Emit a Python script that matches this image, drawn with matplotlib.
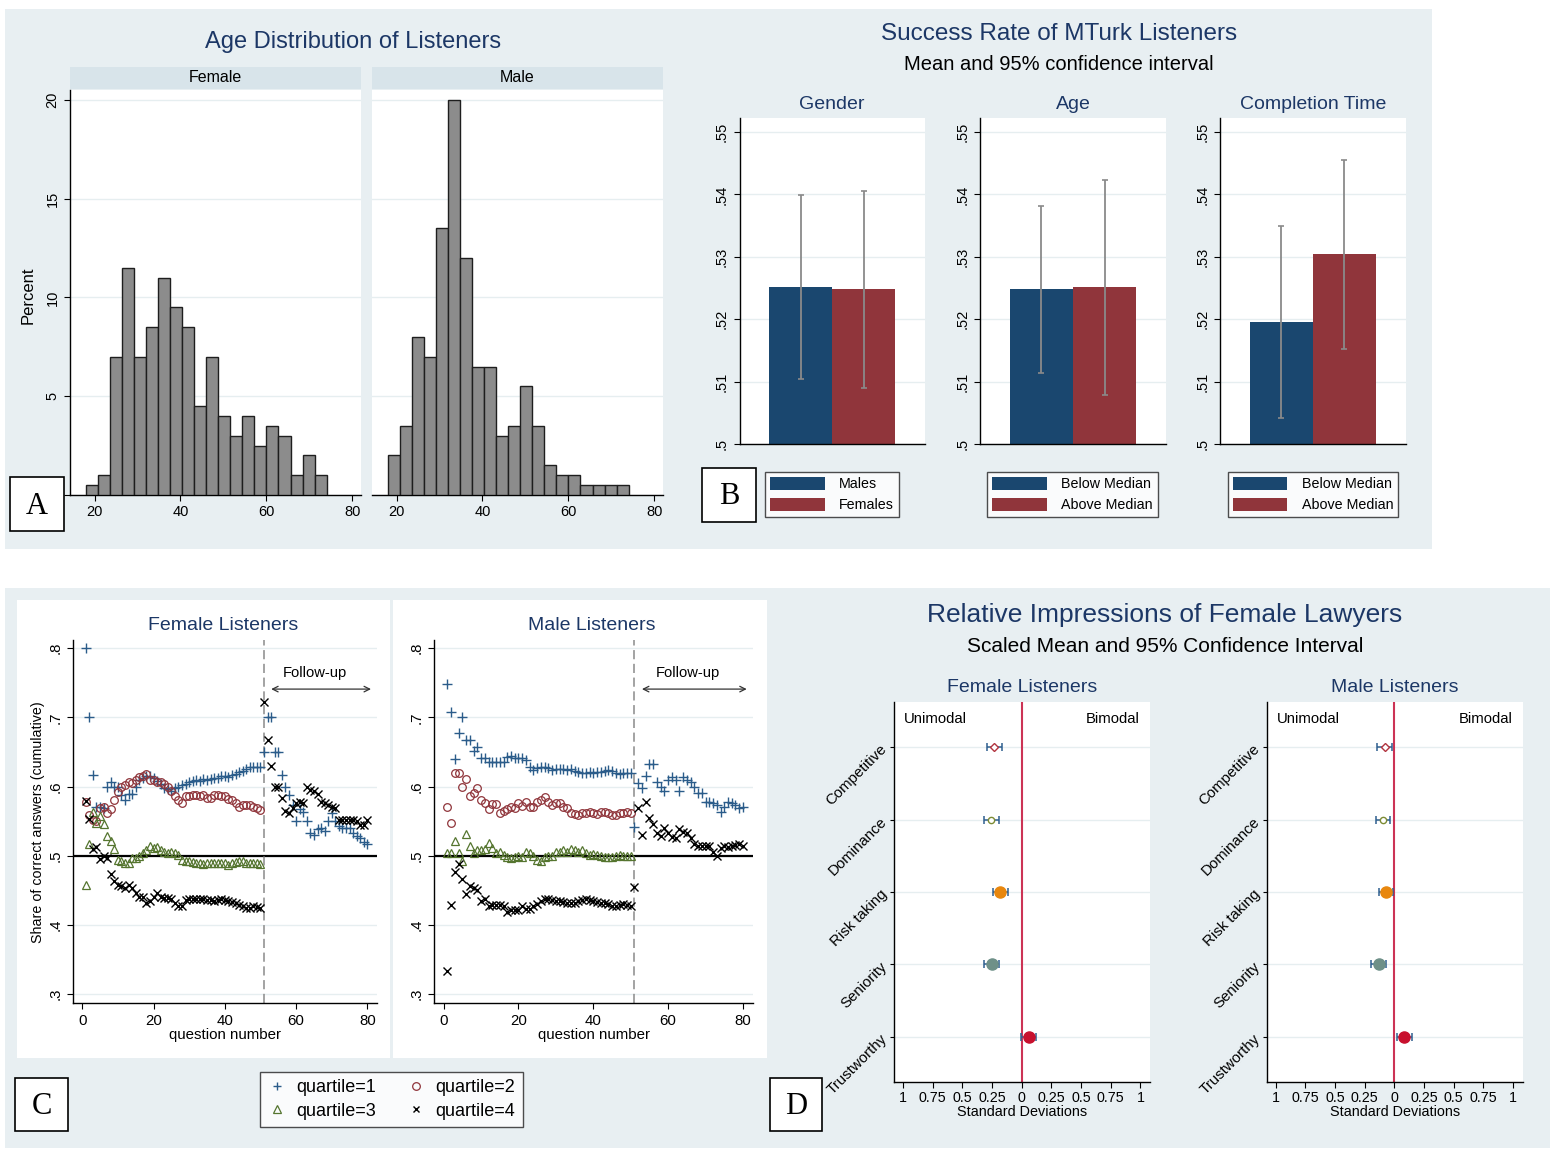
import matplotlib
matplotlib.use("Agg")
import matplotlib.pyplot as plt
from matplotlib.patches import Rectangle, Patch
from matplotlib.lines import Line2D
from matplotlib.ticker import FuncFormatter
import numpy as np

plt.rcParams['font.family'] = ['Liberation Sans', 'DejaVu Sans']

# ---------------- data ----------------
# A: age histograms (percent per bin, bins of 2.8 years starting at 18)
age_bin_start = 18
age_bin_width = 2.8
female_age_pct = [0.5, 1, 7, 11.5, 7, 8.5, 11, 9.5, 8.5, 4.5, 7, 4, 3, 4, 2.5, 3.5, 3, 1, 2, 1]
male_age_pct = [2, 3.5, 8, 7, 13.5, 20, 12, 6.5, 6.5, 3, 3.5, 5.5, 3.5, 1.5, 1, 1, 0.5, 0.5, 0.5, 0.5]

# B: success rate, mean and 95% CI
b_groups = ['Gender', 'Age', 'Completion Time']
b_labels = [('Males', 'Females'), ('Below Median', 'Above Median'), ('Below Median', 'Above Median')]
b_means = [[0.5251, 0.5248], [0.5248, 0.5251], [0.5195, 0.5304]]
b_lo = [[0.5104, 0.5089], [0.5113, 0.5079], [0.5041, 0.5153]]
b_hi = [[0.5399, 0.5406], [0.5382, 0.5423], [0.5350, 0.5455]]

# C: cumulative share of correct answers by quartile
f_q1 = [.80, .70, .617, .57, .57, .569, .60, .607, .60, .60, .588, .58, .59, .59, .60, .61, .612, .615, .615, .612,
        .608, .604, .598, .596, .594, .598, .600, .602, .604, .606, .608, .61, .608, .611, .61, .611, .612, .613, .615, .616,
        .614, .617, .618, .621, .623, .625, .629, .628, .628, .629, .65, .70, .70, .65, .65, .617, .60, .588, .573, .55,
        .568, .563, .55, .533, .530, .538, .54, .536, .55, .562, .55, .543, .54, .54, .54, .533, .528, .525, .52, .517]
f_q2 = [.578, .559, .552, .55, .569, .571, .562, .567, .581, .592, .60, .603, .606, .605, .61, .614, .615, .618, .61, .61,
        .607, .606, .604, .60, .593, .586, .581, .576, .586, .586, .588, .588, .587, .588, .583, .583, .588, .588, .586, .586,
        .582, .581, .576, .571, .573, .573, .573, .571, .569, .566]
f_q3 = [.458, .517, .563, .547, .557, .546, .528, .521, .51, .494, .492, .49, .49, .497, .497, .50, .504, .508, .514, .511,
        .512, .509, .505, .504, .506, .504, .501, .494, .493, .492, .491, .49, .489, .488, .489, .49, .49, .49, .49, .489,
        .487, .489, .491, .493, .492, .49, .489, .49, .489, .488]
f_q4 = [.579, .553, .51, .513, .496, .499, .497, .474, .463, .458, .456, .453, .457, .453, .446, .441, .44, .432, .434, .441,
        .446, .441, .439, .439, .437, .432, .427, .428, .436, .437, .437, .438, .437, .437, .436, .436, .435, .436, .437, .436,
        .435, .433, .431, .429, .427, .425, .425, .427, .426, .425, .722, .667, .63, .60, .60, .583, .564, .562, .569, .576,
        .578, .576, .60, .595, .593, .59, .578, .576, .574, .571, .569, .552, .552, .552, .552, .552, .550, .545, .545, .552]
m_q1 = [.749, .708, .64, .677, .70, .667, .667, .652, .657, .641, .641, .636, .635, .635, .635, .636, .643, .644, .641, .641,
        .641, .639, .628, .624, .627, .628, .628, .627, .624, .625, .625, .625, .624, .625, .622, .621, .62, .62, .621, .62,
        .621, .621, .623, .624, .622, .62, .618, .62, .619, .619, .542, .605, .598, .615, .633, .633, .607, .60, .593, .61,
        .614, .609, .593, .614, .61, .606, .60, .591, .591, .578, .578, .576, .573, .563, .571, .578, .576, .574, .569, .571]
m_q2 = [.571, .547, .619, .619, .60, .611, .586, .591, .598, .581, .576, .567, .575, .575, .562, .564, .567, .571, .569, .576,
        .572, .578, .571, .571, .578, .581, .585, .578, .574, .576, .576, .571, .569, .562, .56, .559, .562, .562, .563, .562,
        .561, .563, .563, .562, .559, .559, .562, .562, .563, .562]
m_q3 = [.504, .504, .522, .504, .492, .532, .514, .504, .509, .509, .51, .518, .511, .504, .505, .501, .498, .497, .498, .50,
        .498, .506, .504, .499, .494, .492, .498, .50, .499, .506, .506, .509, .506, .51, .508, .506, .508, .504, .501, .503,
        .501, .50, .498, .498, .498, .499, .501, .50, .50, .499]
m_q4 = [.334, .429, .476, .488, .466, .445, .456, .453, .451, .434, .437, .427, .429, .429, .429, .427, .418, .422, .422, .422,
        .427, .423, .423, .427, .43, .435, .438, .437, .436, .435, .434, .433, .432, .431, .432, .434, .436, .438, .436, .434,
        .433, .432, .431, .43, .428, .428, .429, .43, .429, .428, .455, .569, .53, .578, .554, .546, .533, .529, .54, .533,
        .527, .526, .539, .534, .533, .526, .517, .514, .514, .514, .514, .506, .50, .511, .514, .513, .514, .516, .517, .514]
main_questions = 50

# D: relative impressions (scaled means, 95% CI)
traits = ['Competitive', 'Dominance', 'Risk taking', 'Seniority', 'Trustworthy']
fem_mean = [-0.233, -0.256, -0.18, -0.253, 0.059]
fem_lo = [-0.295, -0.317, -0.242, -0.315, -0.003]
fem_hi = [-0.169, -0.188, -0.115, -0.188, 0.121]
male_mean = [-0.079, -0.098, -0.067, -0.132, 0.084]
male_lo = [-0.143, -0.157, -0.132, -0.194, 0.025]
male_hi = [-0.02, -0.034, -0.008, -0.067, 0.146]

# ---------------- style ----------------
W, H = 1562, 1149
BG = '#e8eff2'
STRIP = '#d8e4ea'
GRID = '#e6eef0'
TITLE = '#1c3766'
NAVY = '#1a476f'
MAROON = '#90353b'
GREEN = '#55752f'
Q1C = '#2b5c8a'

fig = plt.figure(figsize=(W / 100, H / 100), dpi=100)


def rect(x0, y0, x1, y1):
    return [x0 / W, 1 - y1 / H, (x1 - x0) / W, (y1 - y0) / H]


def box(x0, y0, x1, y1, fc, ec='none', lw=0, z=-10):
    fig.add_artist(Rectangle((x0 / W, 1 - y1 / H), (x1 - x0) / W, (y1 - y0) / H,
                             transform=fig.transFigure, facecolor=fc, edgecolor=ec, lw=lw, zorder=z))


def ftext(x, y, s, **kw):
    fig.text(x / W, 1 - y / H, s, **kw)


def panel_label(x0, y0, x1, y1, s):
    box(x0, y0, x1, y1, 'white', 'black', 1.2, z=5)
    ftext((x0 + x1) / 2, (y0 + y1) / 2 + 2, s, ha='center', va='center', fontsize=22,
          family=['Liberation Serif', 'DejaVu Serif'], zorder=6)


dotfmt = FuncFormatter(lambda v, p: ('%g' % v).replace('0.', '.', 1) if 0 < v < 1 else '%g' % v)


def basic_axes(ax):
    for s in ['top', 'right']:
        ax.spines[s].set_visible(False)
    ax.spines['left'].set_linewidth(1.0)
    ax.spines['bottom'].set_linewidth(1.0)
    ax.tick_params(colors='black', width=0.8, length=4)


# backgrounds
box(5, 9, 1432, 549, BG)
box(5, 588, 1550, 1148, BG)
box(17, 600, 390, 1058, 'white', z=-9)
box(393, 600, 767, 1058, 'white', z=-9)

# ---------------- A ----------------
ftext(353, 42, 'Age Distribution of Listeners', ha='center', va='center', fontsize=17, color=TITLE)
ftext(28, 295, 'Percent', ha='center', va='center', rotation=90, fontsize=12)
edges = age_bin_start + age_bin_width * np.arange(len(female_age_pct))
for i, (pct, name, x0, x1) in enumerate([(female_age_pct, 'Female', 70, 361), (male_age_pct, 'Male', 372, 663)]):
    box(x0, 67, x1, 89, STRIP, z=-8)
    ftext((x0 + x1) / 2, 78, name, ha='center', va='center', fontsize=11.5)
    ax = fig.add_axes(rect(x0, 90, x1, 495))
    basic_axes(ax)
    ax.bar(edges, pct, width=age_bin_width, align='edge', color='#8c8c8c', edgecolor='#1e1e1e', lw=1.0, zorder=3)
    ax.set_xlim(14.3, 82)
    ax.set_ylim(0, 20.5)
    ax.set_xticks([20, 40, 60, 80])
    ax.set_yticks([0, 5, 10, 15, 20])
    ax.grid(axis='y', color=GRID, lw=1, zorder=0)
    ax.tick_params(axis='x', labelsize=10.5)
    if i == 0:
        ax.tick_params(axis='y', labelsize=10.5, labelrotation=90)
        for t in ax.get_yticklabels():
            t.set_va('center')
    else:
        ax.spines['left'].set_visible(False)
        ax.tick_params(axis='y', left=False, labelleft=False)
panel_label(10, 477, 64, 531, 'A')

# ---------------- B ----------------
ftext(1059, 34, 'Success Rate of MTurk Listeners', ha='center', va='center', fontsize=17.5, color=TITLE)
ftext(1059, 64, 'Mean and 95% confidence interval', ha='center', va='center', fontsize=14.5)
b_axes_x = [(739.5, 925), (980, 1166), (1220, 1405.7)]
b_leg_x = [(766, 898), (987, 1158), (1228, 1398)]
for g in range(3):
    x0, x1 = b_axes_x[g]
    ax = fig.add_axes(rect(x0, 118.3, x1, 444))
    basic_axes(ax)
    ax.bar([0, 1], b_means[g], width=1, bottom=0, color=[NAVY, MAROON], zorder=2)
    m = np.array(b_means[g])
    yerr = [m - np.array(b_lo[g]), np.array(b_hi[g]) - m]
    ax.errorbar([0, 1], m, yerr=yerr, fmt='none', ecolor='#8a8a8a', elinewidth=1.3, capsize=2.5, capthick=1.2, zorder=3)
    ax.set_xlim(-0.972, 1.972)
    ax.set_ylim(0.5, 0.5522)
    ax.set_xticks([])
    ax.set_yticks([0.5, 0.51, 0.52, 0.53, 0.54, 0.55])
    ax.yaxis.set_major_formatter(dotfmt)
    ax.grid(axis='y', color=GRID, lw=1, zorder=0)
    ax.tick_params(axis='y', labelsize=10.5, labelrotation=90)
    for t in ax.get_yticklabels():
        t.set_va('center')
    ax.set_title(b_groups[g], fontsize=14, color=TITLE, pad=7)
    lx0, lx1 = b_leg_x[g]
    handles = [Patch(facecolor=NAVY, edgecolor='none'), Patch(facecolor=MAROON, edgecolor='none')]
    leg = fig.legend(handles, b_labels[g], loc='center', bbox_to_anchor=((lx0 + lx1) / 2 / W, 1 - 494.5 / H),
                     fontsize=10.3, frameon=True, fancybox=False, edgecolor='#222222', handlelength=3.8,
                     handleheight=1.0, handletextpad=1.0, labelspacing=0.45, borderpad=0.35, borderaxespad=0)
    leg.get_frame().set_linewidth(1.0)
panel_label(702, 468, 756, 522, 'B')

# ---------------- C ----------------
c_specs = [('Female Listeners', f_q1, f_q2, f_q3, f_q4, 73.3, 376.7),
           ('Male Listeners', m_q1, m_q2, m_q3, m_q4, 434.3, 752.7)]
for k, (title, q1, q2, q3, q4, x0, x1) in enumerate(c_specs):
    ax = fig.add_axes(rect(x0, 640, x1, 1003.3))
    basic_axes(ax)
    qa = np.arange(1, len(q1) + 1)
    qm = np.arange(1, main_questions + 1)
    ax.axhline(0.5, color='black', lw=1.6, zorder=2)
    ax.axvline(main_questions + 1, color='#8a8a8a', lw=1.1, ls=(0, (6, 3)), zorder=2)
    ax.plot(qa, q1, ls='none', marker='+', ms=6.5, mew=1.0, color=Q1C, zorder=4)
    ax.plot(qm, q2, ls='none', marker='o', ms=5.5, mew=0.9, mfc='none', mec=MAROON, zorder=4)
    ax.plot(qm, q3, ls='none', marker='^', ms=6, mew=0.9, mfc='none', mec=GREEN, zorder=4)
    ax.plot(qa, q4, ls='none', marker='x', ms=5.5, mew=1.0, color='black', zorder=4)
    ax.set_xlim(-2.5, 82.6)
    ax.set_ylim(0.2866, 0.812)
    ax.set_xticks([0, 20, 40, 60, 80])
    ax.set_yticks([0.3, 0.4, 0.5, 0.6, 0.7, 0.8])
    ax.yaxis.set_major_formatter(dotfmt)
    ax.grid(axis='y', color=GRID, lw=1, zorder=0)
    ax.tick_params(axis='x', labelsize=10.8)
    ax.tick_params(axis='y', labelsize=10.8, labelrotation=90)
    for t in ax.get_yticklabels():
        t.set_va('center')
    ax.set_xlabel('question number', fontsize=10.8, labelpad=0)
    if k == 0:
        ax.set_ylabel('Share of correct answers (cumulative)', fontsize=10.3, labelpad=3)
    ax.annotate('', xy=(81, 0.741), xytext=(53, 0.741),
                arrowprops=dict(arrowstyle='<->', color='#333333', lw=0.9, shrinkA=0, shrinkB=0))
    ax.text(65.3, 0.764, 'Follow-up', ha='center', va='center', fontsize=10.6)
    ftext((x0 + x1) / 2 - 2, 625, title, ha='center', va='center', fontsize=14, color=TITLE)

c_handles = [Line2D([], [], ls='none', marker='+', ms=6, mew=1.0, color=Q1C),
             Line2D([], [], ls='none', marker='^', ms=6, mew=0.9, mfc='none', mec=GREEN),
             Line2D([], [], ls='none', marker='o', ms=5.5, mew=0.9, mfc='none', mec=MAROON),
             Line2D([], [], ls='none', marker='x', ms=5, mew=1.0, color='black')]
c_labels = ['quartile=1', 'quartile=3', 'quartile=2', 'quartile=4']
leg = fig.legend(c_handles, c_labels, ncol=2, loc='center', bbox_to_anchor=(391.5 / W, 1 - 1099.5 / H),
                 fontsize=13, frameon=True, fancybox=False, edgecolor='#222222', handlelength=1.0,
                 handletextpad=0.6, columnspacing=1.7, labelspacing=0.35, borderpad=0.4, borderaxespad=0)
leg.get_frame().set_linewidth(1.0)
panel_label(15, 1078, 68, 1131, 'C')

# ---------------- D ----------------
ftext(1165, 615, 'Relative Impressions of Female Lawyers', ha='center', va='center', fontsize=19, color=TITLE)
ftext(1165, 646, 'Scaled Mean and 95% Confidence Interval', ha='center', va='center', fontsize=15)
markers = [dict(marker='D', ms=4.5, mfc='white', mec='#b2343f', mew=1.0),
           dict(marker='o', ms=4.5, mfc='white', mec='#7d8c35', mew=1.0),
           dict(marker='o', ms=8, mfc='#e8870e', mec='#e8870e'),
           dict(marker='o', ms=8, mfc='#6e9088', mec='#6e9088'),
           dict(marker='o', ms=8, mfc='#c8102e', mec='#c8102e')]
d_specs = [('Female Listeners', fem_mean, fem_lo, fem_hi, 894, 1150),
           ('Male Listeners', male_mean, male_lo, male_hi, 1266.7, 1522.7)]
ypos = np.arange(1, len(traits) + 1)
for title, mean, lo, hi, x0, x1 in d_specs:
    ax = fig.add_axes(rect(x0, 702.3, x1, 1081.7))
    basic_axes(ax)
    ax.axvline(0, color='#cc3355', lw=1.5, zorder=2)
    m = np.array(mean)
    ax.errorbar(m, ypos, xerr=[m - np.array(lo), np.array(hi) - m], fmt='none', ecolor='#2f5f8f',
                elinewidth=1.1, capsize=3, capthick=1.1, zorder=3)
    for j in range(len(traits)):
        ax.plot(mean[j], ypos[j], ls='none', zorder=4, **markers[j])
    ax.set_ylim(5.62, 0.38)
    ax.set_xlim(-1.076, 1.081)
    ticks = [-1, -0.75, -0.5, -0.25, 0, 0.25, 0.5, 0.75, 1]
    ax.set_xticks(ticks)
    ax.set_xticklabels(['%g' % abs(t) for t in ticks])
    ax.set_yticks(ypos)
    ax.set_yticklabels(traits)
    ax.grid(axis='y', color=GRID, lw=1, zorder=0)
    ax.tick_params(axis='x', labelsize=10.3, pad=3)
    ax.tick_params(axis='y', labelsize=10.8, length=3)
    for t in ax.get_yticklabels():
        t.set_rotation(45)
        t.set_rotation_mode('anchor')
        t.set_ha('right')
        t.set_va('center')
    ax.set_xlabel('Standard Deviations', fontsize=10.4, labelpad=0)
    ax.text(0.04, 0.975, 'Unimodal', transform=ax.transAxes, ha='left', va='top', fontsize=10.7)
    ax.text(0.96, 0.975, 'Bimodal', transform=ax.transAxes, ha='right', va='top', fontsize=10.7)
    ftext((x0 + x1) / 2, 688, title, ha='center', va='center', fontsize=14, color=TITLE)
panel_label(770, 1078, 822, 1131, 'D')

plt.savefig('out.png', dpi=100)
